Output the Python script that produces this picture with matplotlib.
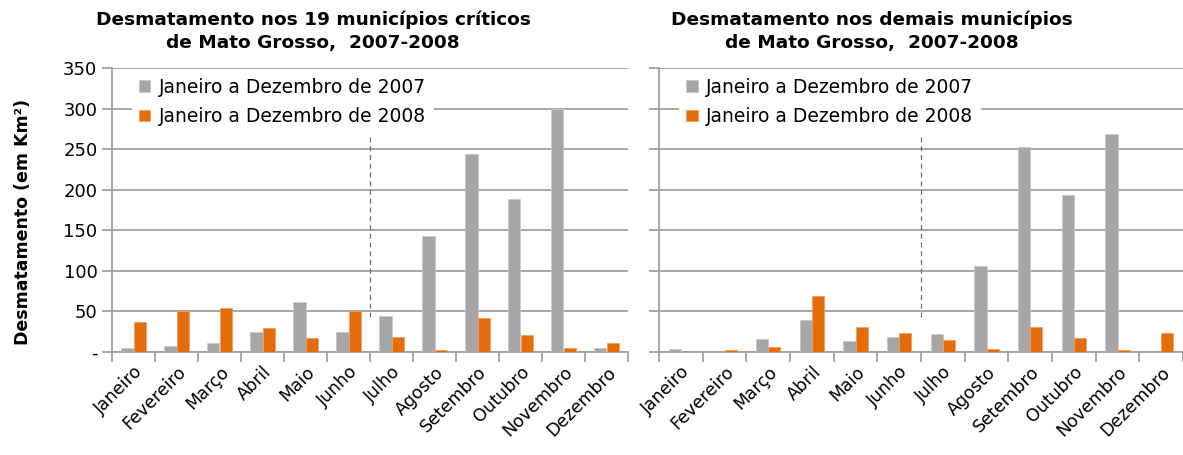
import matplotlib.pyplot as plt
import numpy as np

meses = ['Janeiro', 'Fevereiro', 'Março', 'Abril', 'Maio', 'Junho',
         'Julho', 'Agosto', 'Setembro', 'Outubro', 'Novembro', 'Dezembro']

# 19 municipios criticos
crit_2007 = [5, 7, 11, 25, 62, 25, 44, 143, 244, 188, 300, 5]
crit_2008 = [37, 50, 54, 30, 17, 50, 19, 2.5, 42, 21, 5, 11]

# demais municipios
dem_2007 = [4, 0, 16, 39, 14, 18, 22, 106, 253, 193, 269, 0]
dem_2008 = [0, 2, 6, 69, 31, 23, 15, 4, 31, 17, 2, 23]

yticks = [0, 50, 100, 150, 200, 250, 300, 350]
ytick_labels = ['-', '50', '100', '150', '200', '250', '300', '350']

titulos = ['Desmatamento nos 19 municípios críticos\nde Mato Grosso,  2007-2008',
           'Desmatamento nos demais municípios\nde Mato Grosso,  2007-2008']
legenda = ['Janeiro a Dezembro de 2007', 'Janeiro a Dezembro de 2008']

CINZA = '#A6A6A6'
LARANJA = '#E46C0A'
GRADE = '#A0A0A0'

plt.rcParams['font.family'] = ['DejaVu Sans']

fig = plt.figure(figsize=(11.83, 4.55), dpi=100)
ax1 = fig.add_axes([112/1183, 1-352/455, 516/1183, 284/455])
ax2 = fig.add_axes([659/1183, 1-352/455, 524/1183, 284/455])

x = np.arange(len(meses))
w = 0.28

for ax, a, b, tit, tx in [(ax1, crit_2007, crit_2008, titulos[0], 313/1183),
                          (ax2, dem_2007, dem_2008, titulos[1], 872/1183)]:
    ax.bar(x - w/2, a, w, color=CINZA, edgecolor='#C8C8C8', linewidth=0.6,
           label=legenda[0], zorder=3)
    ax.bar(x + w/2, b, w, color=LARANJA, edgecolor='#F0A060', linewidth=0.6,
           label=legenda[1], zorder=3)
    ax.set_xlim(-0.5, 11.5)
    ax.set_ylim(0, 350)
    ax.set_yticks(yticks)
    ax.grid(axis='y', color=GRADE, linewidth=1.3, zorder=0)
    ax.set_axisbelow(True)
    for s in ['top', 'right']:
        ax.spines[s].set_visible(False)
    for s in ['left', 'bottom']:
        ax.spines[s].set_color(GRADE)
        ax.spines[s].set_linewidth(1.3)
    ax.set_xticks(x)
    ax.set_xticklabels(meses, rotation=45, ha='right', rotation_mode='anchor',
                       fontsize=12.5)
    ax.set_xticks(np.arange(-0.5, 12, 1), minor=True)
    ax.tick_params(axis='x', which='major', length=0, pad=8)
    ax.tick_params(axis='x', which='minor', length=7, color=GRADE, width=1.3)
    ax.tick_params(axis='y', length=7, color=GRADE, width=1.3, labelsize=13)
    # linha tracejada entre junho e julho
    ax.plot([5.5, 5.5], [43, 290], color='#707070', linestyle=(0, (4, 3)),
            linewidth=0.9, zorder=4)
    leg = ax.legend(loc='upper left', bbox_to_anchor=(0.02, 1.025), fontsize=13.5,
                    frameon=True, framealpha=1, edgecolor='white',
                    handlelength=0.6, handleheight=0.6, handletextpad=0.45,
                    labelspacing=0.55, borderpad=0.4, fancybox=False)
    leg.get_frame().set_linewidth(0)
    leg.set_zorder(5)
    fig.text(tx, 0.978, tit, ha='center', va='top', fontsize=13.3,
             fontweight='bold', linespacing=1.4)

ax1.set_yticklabels(ytick_labels)
ax2.set_yticklabels([])
ax1.set_ylabel('Desmatamento (em Km²)', fontsize=12.5, fontweight='bold')
ax1.yaxis.set_label_coords(-0.155, 0.458)

fig.savefig('out.png', dpi=100)
